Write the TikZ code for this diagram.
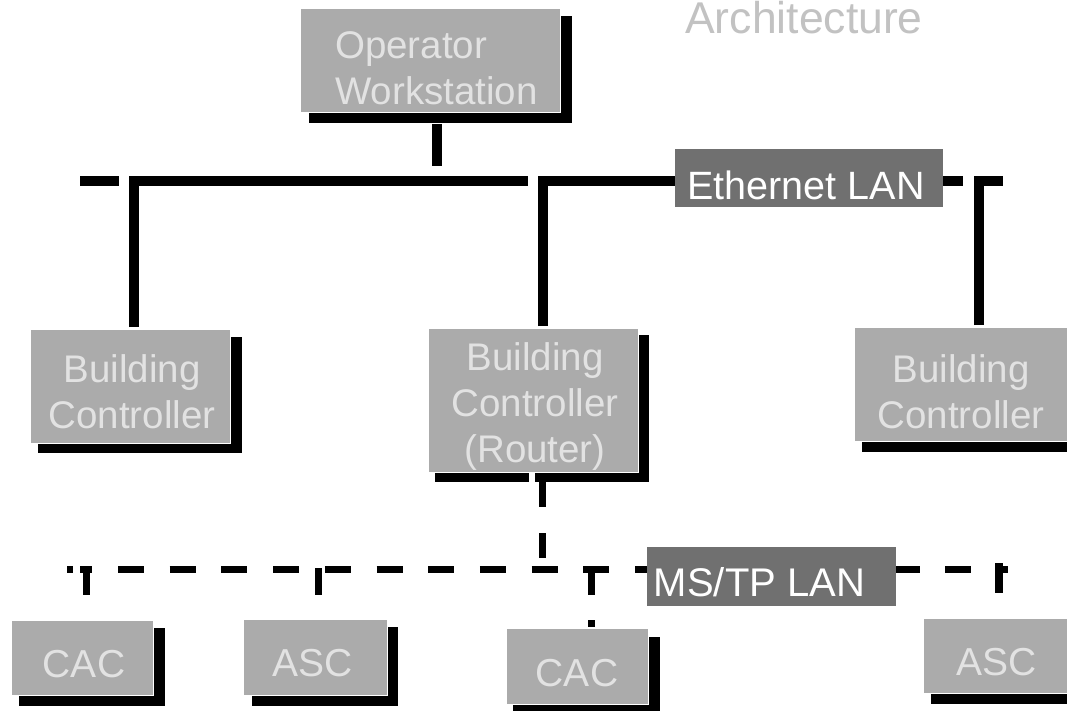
\documentclass[tikz,border=0pt]{standalone}
\usepackage{fontspec}
\setmainfont{Liberation Sans}
\definecolor{boxgray}{HTML}{ABABAB}
\definecolor{labgray}{HTML}{707070}
\definecolor{txtlight}{HTML}{E2E2E2}
\definecolor{titlegray}{HTML}{C2C2C2}
\begin{document}
\begin{tikzpicture}[x=1pt,y=-1pt,
  boxg/.style={fill=boxgray, draw=white, line width=1.2pt, inner sep=0, anchor=north west},
  labbox/.style={fill=labgray, draw=none, inner sep=0, anchor=north west},
  shad/.style={fill=black},
  bx/.style={font=\fontsize{38.5}{46}\selectfont, text=txtlight, inner sep=0, align=center},
  smallbx/.style={font=\fontsize{39}{46}\selectfont, text=txtlight, inner sep=0},
  bus/.style={line width=10pt, line cap=butt, line join=miter},
  mline/.style={line width=7pt, line cap=butt, line join=miter},
  mstp/.style={line width=7pt, line cap=butt, dash pattern=on 26pt off 25.7pt}]
\useasboundingbox (0,0) rectangle (1067,711);
\fill[white] (0,0) rectangle (1067,711);

% title
\node[font=\fontsize{44.5}{50}\selectfont, text=titlegray, inner sep=0] (title) at (804,18) {Architecture};

% shadows
\fill[shad] (309,16) rectangle (572,123);
\fill[shad] (38,337) rectangle (242,453);
\fill[shad] (435,335) rectangle (649,482);
\fill[white] (529,470) rectangle (535,484);
\fill[shad] (862,335) rectangle (1080,452);
\fill[shad] (19,628) rectangle (165,706);
\fill[shad] (252,627) rectangle (398,706);
\fill[shad] (513,637) rectangle (660,716);
\fill[shad] (931,626) rectangle (1080,704);

% boxes
\node[boxg, minimum width=260pt, minimum height=104pt] (ow) at (300,8) {};
\node[boxg, minimum width=200pt, minimum height=114pt] (lbc) at (30,329) {};
\node[boxg, minimum width=210pt, minimum height=144pt] (rt) at (428,328) {};
\node[boxg, minimum width=218pt, minimum height=114pt] (rbc) at (854,327) {};
\node[boxg, minimum width=142pt, minimum height=75pt] (cac1) at (11,620) {};
\node[boxg, minimum width=144pt, minimum height=76pt] (asc1) at (243,619) {};
\node[boxg, minimum width=142pt, minimum height=76pt] (cac2) at (506,628) {};
\node[boxg, minimum width=152pt, minimum height=75pt] (asc2) at (923,618) {};

% box texts
\node[bx, align=left, anchor=west] (owt) at (335,68) {Operator\\Workstation};
\node[bx] (lbct) at (132,392) {Building\\Controller};
\node[bx] (rtt) at (535,407) {Building\\Controller\\(Router)};
\node[bx] (rbct) at (961,392) {Building\\Controller};
\node[smallbx] (cac1t) at (84,664.5) {CAC};
\node[smallbx] (asc1t) at (313,663) {ASC};
\node[smallbx] (cac2t) at (577,673) {CAC};
\node[smallbx] (asc2t) at (997,662) {ASC};

% Ethernet LAN
\node[labbox, minimum width=268pt, minimum height=58pt] (eth) at (675,149) {};
\node[font=\fontsize{39.5}{46}\selectfont, text=white, inner sep=0] (etht) at (806,185) {Ethernet LAN};
\coordinate (ethL) at (eth.west |- 0,181);
\coordinate (ethR) at (eth.east |- 0,181);
\draw[bus] (ow.south) ++(6,11) -- ++(0,42);
\draw[bus] (80,181) -- (119,181);
\draw[bus] (134,327) -- (134,181) -- (528,181);
\draw[bus] (542.5,326) -- (542.5,181) -- (ethL);
\draw[bus] (ethR) -- (963,181);
\draw[bus] (978.5,325) -- (978.5,181) -- (1003,181);

% MS/TP LAN
\draw[mstp] (118,569.5) -- (1008,569.5);
\node[labbox, minimum width=249pt, minimum height=59pt] (ms) at (647,547) {};
\node[font=\fontsize{40}{46}\selectfont, text=white, inner sep=0] (mst) at (759.5,582.5) {MS/TP LAN};
\draw[mline] (67,569.5) -- (73,569.5);
\draw[mline] (80,569.5) -- (92,569.5);
\draw[mline] (86,566) -- (86,595);
\draw[mline] (318.5,568) -- (318.5,595);
\draw[line width=7pt, line cap=butt, dash pattern=on 25pt off 26pt] (542.5,482) -- (542.5,566);
\draw[mline] (591.5,569.5) -- (591.5,595);
\draw[mline] (591.5,620) -- (591.5,627);
\draw[line width=8pt, line cap=butt] (999,563) -- (999,593);
\end{tikzpicture}
\end{document}
